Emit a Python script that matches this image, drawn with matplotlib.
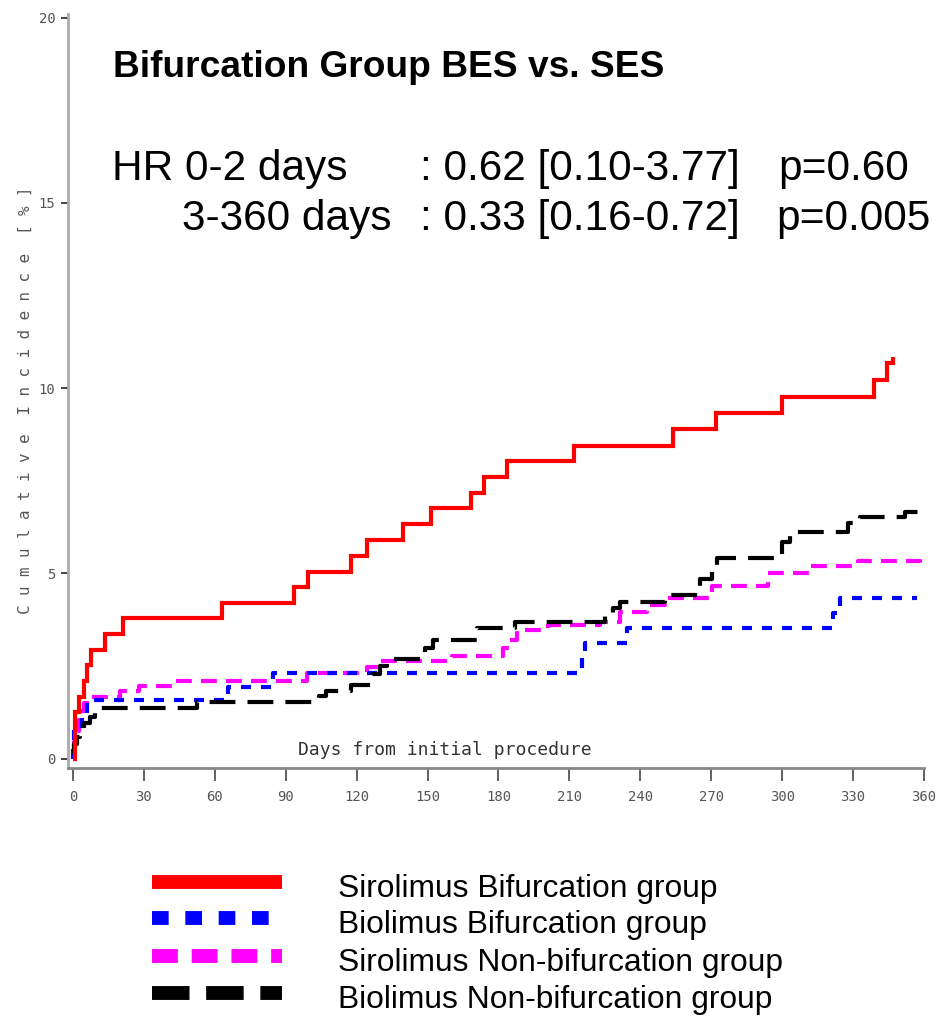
import matplotlib
matplotlib.use("Agg")
import matplotlib.pyplot as plt
from matplotlib.lines import Line2D

W, H, DPI = 936, 1016, 100

# ---- data -------------------------------------------------------------
series_names = [
    "Sirolimus Bifurcation group",
    "Biolimus Bifurcation group",
    "Sirolimus Non-bifurcation group",
    "Biolimus Non-bifurcation group",
]

# Sirolimus, bifurcation lesions
ses_bif_days = [0, 0.97, 2.67, 4.53, 5.92, 7.74, 13.66, 21.02, 63.03, 93.49,
                99.41, 117.6, 124.4, 139.6, 151.4, 168.4, 173.9, 183.6, 211.9,
                253.8, 272.0, 299.9, 338.8, 344.3, 346.7]
ses_bif_pct = [0, 1.27, 1.67, 2.11, 2.54, 2.94, 3.37, 3.81, 4.21, 4.64,
               5.05, 5.48, 5.91, 6.34, 6.77, 7.18, 7.61, 8.04, 8.45,
               8.91, 9.34, 9.77, 10.23, 10.69, 10.85]

# Biolimus, bifurcation lesions
bes_bif_days = [0, 0.2, 0.6, 3.8, 5.8, 65.7, 84.7, 215.2, 216.6, 234.2,
                321.6, 324.5, 357.0]
bes_bif_pct = [0, 0.40, 0.79, 1.19, 1.59, 1.94, 2.32, 2.73, 3.13, 3.54,
               3.93, 4.35, 4.35]

# Sirolimus, non-bifurcation lesions
ses_non_days = [0, 0.6, 1.6, 2.6, 3.6, 4.6, 5.9, 20.0, 27.8, 41.7, 98.8,
                124.2, 129.9, 160.2, 182.0, 184.9, 187.7, 201.1, 223.0,
                231.4, 242.7, 250.4, 270.2, 294.1, 311.8, 332.2, 358.3,
                359.0]
ses_non_pct = [0.15, 0.45, 0.75, 1.05, 1.30, 1.50, 1.67, 1.82, 1.97, 2.11,
               2.32, 2.48, 2.64, 2.78, 3.00, 3.21, 3.48, 3.62, 3.70, 3.97,
               4.16, 4.35, 4.67, 5.02, 5.19, 5.35, 5.56, 5.56]

# Biolimus, non-bifurcation lesions
bes_non_days = [0, 0.5, 1.5, 3.0, 4.5, 7.2, 9.3, 12.0, 52.5, 104.0, 107.0,
                117.5, 126.5, 130.0, 133.0, 148.9, 152.4, 170.8, 187.0,
                225.0, 228.6, 231.4, 250.4, 265.2, 270.2, 272.5, 299.8,
                303.3, 328.0, 333.0, 352.0, 359.0]
bes_non_pct = [0.10, 0.40, 0.60, 0.80, 0.97, 1.12, 1.24, 1.37, 1.52, 1.68,
               1.84, 2.00, 2.30, 2.50, 2.70, 3.00, 3.21, 3.54, 3.70, 3.89,
               4.07, 4.24, 4.43, 4.86, 5.14, 5.42, 5.86, 6.13, 6.37, 6.53,
               6.67, 6.67]

x_ticks = list(range(0, 361, 30))
y_ticks = [0, 5, 10, 15, 20]

title = "Bifurcation Group BES vs. SES"
hr_rows = [
    ("HR 0-2 days", ": 0.62 [0.10-3.77]", "p=0.60"),
    ("3-360 days", ": 0.33 [0.16-0.72]", "p=0.005"),
]
x_title = "Days from initial procedure"
y_title = "Cumulative Incidence [%]"

# ---- styles -----------------------------------------------------------
colors = ["#ff0000", "#0000ff", "#ff00ff", "#000000"]
plot_dashes = [None, (2.4, 2.4), (3.8, 2.2), (6.2, 2.9)]
key_dashes = [None, (1.2, 1.2), (1.86, 1.0), (2.7, 1.2)]
draw_order = [2, 1, 3, 0]

series = [
    (ses_bif_days, ses_bif_pct),
    (bes_bif_days, bes_bif_pct),
    (ses_non_days, ses_non_pct),
    (bes_non_days, bes_non_pct),
]

MONO = "DejaVu Sans Mono"
SANS = "Liberation Sans"

fig = plt.figure(figsize=(W / DPI, H / DPI), dpi=DPI)
fig.patch.set_facecolor("white")

ax = fig.add_axes([68 / W, 1 - 768 / H, (924 - 68) / W, (768 - 14) / H])
ax.set_xlim(-2.1, 360)
ax.set_ylim(-0.25, 20.1)

for z, i in enumerate(draw_order):
    days, pct = series[i]
    kw = dict(color=colors[i], lw=3.0, where="post", zorder=3 + z,
              solid_capstyle="butt", dash_capstyle="butt",
              solid_joinstyle="miter")
    if plot_dashes[i] is not None:
        kw["dashes"] = plot_dashes[i]
    ax.step(days, pct, **kw)

for side in ("top", "right"):
    ax.spines[side].set_visible(False)
ax.spines["left"].set_color("#aaaaaa")
ax.spines["left"].set_linewidth(2)
ax.spines["bottom"].set_color("#888888")
ax.spines["bottom"].set_linewidth(2)

ax.set_xticks(x_ticks)
ax.set_xticklabels([str(t) for t in x_ticks], family=MONO, fontsize=10,
                   color="#555555")
ax.set_yticks(y_ticks)
ax.set_yticklabels([str(t) for t in y_ticks], family=MONO, fontsize=10,
                   color="#555555")
ax.tick_params(axis="x", direction="out", length=9, width=1.3,
               color="#555555", pad=7)
ax.tick_params(axis="y", direction="out", length=5, width=1.3,
               color="#333333", pad=4)

# axis titles in the spaced-out plotting-font look
fig.text(445 / W, 1 - 750 / H, x_title, family=MONO, fontsize=13,
         color="#333333", ha="center", va="center")
spaced = "  ".join(" ".join(w) for w in y_title.split(" "))
fig.text(25 / W, 1 - 400 / H, spaced, family=MONO, fontsize=11.4,
         color="#555555", rotation=90, ha="center", va="center")

# headline and hazard ratios
fig.text(113 / W, 1 - 77 / H, title, family=SANS, fontsize=26.7,
         weight="bold", color="black", va="baseline")
row_x = [(112, 420, 778), (182, 420, 776)]
row_base = [180, 230]
for (a, b, c), (xa, xb, xc), yb in zip(hr_rows, row_x, row_base):
    for txt, xx in ((a, xa), (b, xb), (c, xc)):
        fig.text(xx / W, 1 - yb / H, txt, family=SANS, fontsize=30.5,
                 color="black", va="baseline")

# key below the plot
key_line_y = [882, 918, 956, 993]
for i, name in enumerate(series_names):
    yy = 1 - key_line_y[i] / H
    ln = Line2D([152 / W, 282 / W], [yy, yy], transform=fig.transFigure,
                color=colors[i], lw=10, solid_capstyle="butt",
                dash_capstyle="butt")
    if key_dashes[i] is not None:
        ln.set_dashes(key_dashes[i])
    fig.add_artist(ln)
    fig.text(338 / W, 1 - (key_line_y[i] + 15) / H, name, family=SANS,
             fontsize=22.9, color="black", va="baseline")

fig.savefig("out.png", dpi=DPI, facecolor="white")
